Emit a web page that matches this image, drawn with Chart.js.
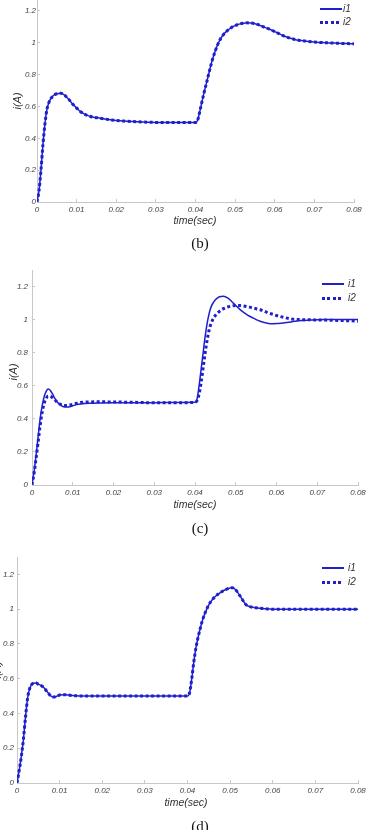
<!DOCTYPE html>
<html>
<head>
<meta charset="utf-8">
<script src="https://cdn.jsdelivr.net/npm/chart.js@4"></script>
<style>
  body { margin: 0; background: #fff; width: 374px; height: 830px; overflow: hidden; position: relative; font-family: 'Liberation Sans', Arial, sans-serif; }
  canvas { position: absolute; left: 0; }
  .lbl { position: absolute; font-style: italic; color: #333; white-space: nowrap; }
  .xt { font-size: 10.5px; transform: translate(-50%, -50%); }
  .yt { font-size: 11px; transform: translate(-50%, -50%) rotate(-90deg); }
  .cap { position: absolute; font-family: 'Liberation Serif', 'Times New Roman', serif; font-size: 15px; color: #111; transform: translate(-50%, -50%); }
  .leg { position: absolute; font-size: 10px; font-style: italic; color: #333; }
  .solid { position: absolute; width: 22px; height: 1.5px; background: #1f1fcc; }
  .dots { position: absolute; width: 22px; height: 3px; background: repeating-linear-gradient(90deg, #1f1fcc 0 3px, transparent 3px 5.5px); }
</style>
</head>
<body>
<canvas id="chartB" width="374" height="227" style="top:-5px"></canvas>
<canvas id="chartC" width="374" height="235" style="top:270px"></canvas>
<canvas id="chartD" width="374" height="246" style="top:557px"></canvas>

<div class="lbl xt" style="left:195px;top:220px">time(sec)</div>
<div class="lbl yt" style="left:17px;top:101px">i(A)</div>
<div class="cap" style="left:200px;top:243px">(b)</div>
<div class="solid" style="left:320px;top:8px"></div><div class="leg" style="left:343px;top:3px">i1</div>
<div class="dots" style="left:320px;top:21px"></div><div class="leg" style="left:343px;top:16px">i2</div>

<div class="lbl xt" style="left:195px;top:504px">time(sec)</div>
<div class="lbl yt" style="left:13px;top:372px">i(A)</div>
<div class="cap" style="left:200px;top:528px">(c)</div>
<div class="solid" style="left:322px;top:283px"></div><div class="leg" style="left:348px;top:278px">i1</div>
<div class="dots" style="left:322px;top:297px"></div><div class="leg" style="left:348px;top:292px">i2</div>

<div class="lbl xt" style="left:186px;top:802px">time(sec)</div>
<div class="lbl yt" style="left:-3px;top:670px">i(A)</div>
<div class="cap" style="left:200px;top:826px">(d)</div>
<div class="solid" style="left:322px;top:567px"></div><div class="leg" style="left:348px;top:562px">i1</div>
<div class="dots" style="left:322px;top:581px"></div><div class="leg" style="left:348px;top:576px">i2</div>

<script>
// (b)
const tB = [0, 0.0005, 0.001, 0.0015, 0.002, 0.0025, 0.003, 0.004, 0.005, 0.006,
    0.007, 0.008, 0.009, 0.010, 0.011, 0.012, 0.013, 0.014, 0.016, 0.018,
    0.020, 0.022, 0.025, 0.028, 0.03, 0.035, 0.04, 0.0405, 0.041, 0.042,
    0.043, 0.044, 0.045, 0.046, 0.047, 0.048, 0.049, 0.050, 0.051, 0.052,
    0.053, 0.054, 0.055, 0.056, 0.057, 0.058, 0.059, 0.060, 0.061, 0.062,
    0.063, 0.064, 0.065, 0.066, 0.068, 0.070, 0.072, 0.075, 0.078, 0.080];
const i1B = [0, 0.07, 0.2, 0.36, 0.49, 0.58, 0.625, 0.665, 0.68, 0.683,
    0.67, 0.645, 0.615, 0.59, 0.567, 0.552, 0.541, 0.534, 0.526, 0.518,
    0.512, 0.508, 0.504, 0.501, 0.5, 0.5, 0.5, 0.51, 0.56, 0.67,
    0.77, 0.87, 0.95, 1.01, 1.05, 1.075, 1.095, 1.108, 1.117, 1.122,
    1.125, 1.124, 1.12, 1.112, 1.102, 1.092, 1.082, 1.07, 1.058, 1.046,
    1.036, 1.028, 1.021, 1.016, 1.01, 1.005, 1.001, 0.998, 0.995, 0.994];
const i2B = [0, 0.07, 0.2, 0.36, 0.49, 0.58, 0.625, 0.665, 0.68, 0.683,
    0.67, 0.645, 0.615, 0.59, 0.567, 0.552, 0.541, 0.534, 0.526, 0.518,
    0.512, 0.508, 0.504, 0.501, 0.5, 0.5, 0.5, 0.51, 0.56, 0.67,
    0.77, 0.87, 0.95, 1.01, 1.05, 1.075, 1.095, 1.108, 1.117, 1.122,
    1.125, 1.124, 1.12, 1.112, 1.102, 1.092, 1.082, 1.07, 1.058, 1.046,
    1.036, 1.028, 1.021, 1.016, 1.01, 1.005, 1.001, 0.998, 0.995, 0.994];

// (c)
const tC = [0, 0.0005, 0.001, 0.0015, 0.002, 0.0025, 0.003, 0.0035, 0.004, 0.0045,
    0.005, 0.0055, 0.006, 0.007, 0.008, 0.009, 0.010, 0.011, 0.012, 0.014,
    0.017, 0.02, 0.025, 0.03, 0.035, 0.04, 0.0405, 0.041, 0.0415, 0.042,
    0.0425, 0.043, 0.0435, 0.044, 0.045, 0.046, 0.047, 0.048, 0.049, 0.050,
    0.051, 0.052, 0.053, 0.054, 0.055, 0.056, 0.057, 0.058, 0.059, 0.060,
    0.061, 0.062, 0.063, 0.064, 0.066, 0.068, 0.07, 0.072, 0.075, 0.078,
    0.08];
const i1C = [0, 0.08, 0.18, 0.29, 0.40, 0.48, 0.535, 0.568, 0.58, 0.572,
    0.552, 0.528, 0.508, 0.483, 0.472, 0.472, 0.479, 0.486, 0.49, 0.494,
    0.496, 0.497, 0.498, 0.498, 0.499, 0.5, 0.52, 0.6, 0.7, 0.8,
    0.9, 0.98, 1.04, 1.08, 1.12, 1.138, 1.142, 1.132, 1.11, 1.085,
    1.062, 1.042, 1.026, 1.013, 1.0, 0.99, 0.982, 0.977, 0.975, 0.976,
    0.978, 0.981, 0.984, 0.988, 0.994, 0.997, 0.999, 1.0, 1.0, 1.0,
    1.0];
const i2C = [0, 0.07, 0.16, 0.26, 0.36, 0.44, 0.495, 0.525, 0.538, 0.537,
    0.528, 0.517, 0.505, 0.488, 0.48, 0.482, 0.488, 0.494, 0.499, 0.502,
    0.503, 0.502, 0.5, 0.497, 0.497, 0.5, 0.51, 0.55, 0.62, 0.71,
    0.8, 0.88, 0.94, 0.98, 1.025, 1.05, 1.066, 1.076, 1.082, 1.085,
    1.085, 1.082, 1.077, 1.072, 1.066, 1.06, 1.052, 1.04, 1.033, 1.025,
    1.018, 1.012, 1.007, 1.003, 1.0, 0.999, 0.998, 0.997, 0.995, 0.993,
    0.99];

// (d)
const tD = [0, 0.0005, 0.001, 0.0015, 0.002, 0.0025, 0.003, 0.0035, 0.004, 0.0045,
    0.005, 0.0055, 0.006, 0.0065, 0.007, 0.0075, 0.008, 0.0085, 0.009, 0.0095,
    0.010, 0.011, 0.012, 0.013, 0.015, 0.02, 0.03, 0.04, 0.0405, 0.041,
    0.0415, 0.042, 0.0425, 0.043, 0.0435, 0.044, 0.045, 0.046, 0.047, 0.048,
    0.049, 0.050, 0.0505, 0.051, 0.0515, 0.052, 0.0525, 0.053, 0.0535, 0.054,
    0.055, 0.056, 0.058, 0.06, 0.07, 0.08];
const i1D = [0, 0.07, 0.15, 0.25, 0.38, 0.49, 0.545, 0.568, 0.574, 0.575,
    0.568, 0.563, 0.555, 0.543, 0.527, 0.512, 0.5, 0.495, 0.496, 0.501,
    0.506, 0.508, 0.506, 0.503, 0.501, 0.5, 0.5, 0.5, 0.52, 0.6,
    0.7, 0.78, 0.84, 0.89, 0.935, 0.97, 1.025, 1.06, 1.083, 1.1,
    1.113, 1.122, 1.123, 1.118, 1.105, 1.088, 1.07, 1.05, 1.032, 1.02,
    1.012, 1.008, 1.003, 1.0, 1.0, 1.0];
const i2D = [0, 0.07, 0.15, 0.25, 0.38, 0.49, 0.545, 0.568, 0.574, 0.575,
    0.568, 0.563, 0.555, 0.543, 0.527, 0.512, 0.5, 0.495, 0.496, 0.501,
    0.506, 0.508, 0.506, 0.503, 0.501, 0.5, 0.5, 0.5, 0.52, 0.6,
    0.7, 0.78, 0.84, 0.89, 0.935, 0.97, 1.025, 1.06, 1.083, 1.1,
    1.113, 1.122, 1.123, 1.118, 1.105, 1.088, 1.07, 1.05, 1.032, 1.02,
    1.012, 1.008, 1.003, 1.0, 1.0, 1.0];

const xTicks = [0, 0.01, 0.02, 0.03, 0.04, 0.05, 0.06, 0.07, 0.08];
const yTicks = [0, 0.2, 0.4, 0.6, 0.8, 1, 1.2];
const yMax = 1.3;

const blue = '#1f1fcc';
const axisGray = '#c8c8c8';
const tickFont = { family: 'Liberation Sans', style: 'italic', size: 8 };

function toPoints(t, v) {
    let pts = [];
    for (let i = 0; i < t.length; i++) {
        pts.push({ x: t[i], y: v[i] });
    }
    return pts;
}

function makeChart(id, t, a, b, yWidth, rightPad, yGap) {
    let ctx = document.getElementById(id).getContext('2d');
    return new Chart(ctx, {
        type: 'line',
        data: {
            datasets: [{
                label: 'i1',
                data: toPoints(t, a),
                borderColor: blue,
                borderWidth: 1.5,
                pointRadius: 0,
                cubicInterpolationMode: 'monotone',
                order: 1
            }, {
                label: 'i2',
                data: toPoints(t, b),
                borderColor: blue,
                borderWidth: 3,
                borderDash: [3, 2.5],
                borderCapStyle: 'butt',
                pointRadius: 0,
                cubicInterpolationMode: 'monotone',
                order: 0
            }]
        },
        options: {
            responsive: false,
            animation: false,
            devicePixelRatio: 1,
            layout: { padding: { left: 0, right: rightPad, top: 0, bottom: 0 } },
            plugins: { legend: { display: false }, tooltip: { enabled: false } },
            scales: {
                x: {
                    type: 'linear',
                    min: 0,
                    max: 0.08,
                    afterBuildTicks: (s) => { s.ticks = xTicks.map(v => ({ value: v })); },
                    afterFit: (s) => { s.height = 20; s.paddingLeft = 0; s.paddingRight = 0; },
                    border: { color: axisGray, width: 1 },
                    // short inward tick marks, as in the source figure
                    grid: { display: true, drawOnChartArea: false, drawTicks: true, tickLength: -3, color: axisGray },
                    ticks: {
                        font: tickFont, color: '#444', padding: 6, maxRotation: 0, autoSkip: false,
                        callback: (v) => v === 0 ? '0' : v.toFixed(2)
                    }
                },
                y: {
                    min: 0,
                    max: yMax,
                    afterBuildTicks: (s) => { s.ticks = yTicks.map(v => ({ value: v })); },
                    afterFit: (s) => { s.width = yWidth; s.paddingTop = 0; s.paddingBottom = 0; },
                    border: { color: axisGray, width: 1 },
                    grid: { display: true, drawOnChartArea: false, drawTicks: true, tickLength: -3, color: axisGray },
                    ticks: {
                        font: tickFont, color: '#444', padding: yGap + 3, autoSkip: false,
                        callback: (v) => String(+v.toFixed(1))
                    }
                }
            }
        }
    });
}

makeChart('chartB', tB, i1B, i2B, 37, 20, 1);
makeChart('chartC', tC, i1C, i2C, 32, 16, 4);
makeChart('chartD', tD, i1D, i2D, 17, 16, 3);
</script>
</body>
</html>
